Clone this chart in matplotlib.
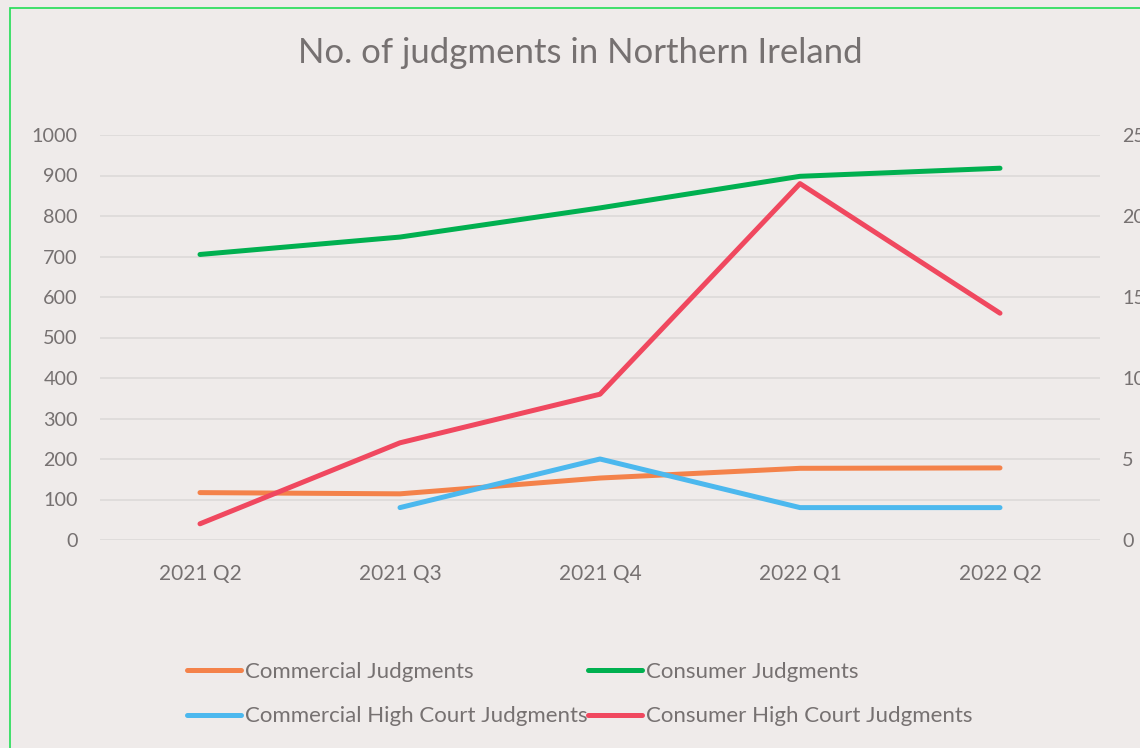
import numpy as np
import matplotlib.pyplot as plt
from matplotlib.patches import Rectangle

quarters = ["2021 Q2", "2021 Q3", "2021 Q4", "2022 Q1", "2022 Q2"]
commercial = [117, 114, 153, 177, 178]
consumer = [705, 748, 820, 898, 918]
commercial_hc = [np.nan, 2, 5, 2, 2]
consumer_hc = [1, 6, 9, 22, 14]

bg = "#EFEBEA"
grey = "#767171"
plt.rcParams["font.family"] = ["Lato", "DejaVu Sans"]

fig = plt.figure(figsize=(11.4, 7.48), dpi=100, facecolor=bg)
# green chart border (cropped on right/bottom)
fig.patches.append(Rectangle((10 / 1140, -0.1), 1.2, 1 - 8 / 748 + 0.1,
                             transform=fig.transFigure, fill=False,
                             edgecolor="#22DD55", linewidth=1.2))

ax = fig.add_axes([100 / 1140, 1 - 540 / 748, 1000 / 1140, 405 / 748])
ax.set_facecolor(bg)
ax2 = ax.twinx()

x = np.arange(len(quarters))
l1, = ax.plot(x, commercial, color="#F4824A", lw=3.6, label="Commercial Judgments", solid_capstyle="round")
l2, = ax.plot(x, consumer, color="#00B050", lw=3.6, label="Consumer Judgments", solid_capstyle="round")
l3, = ax2.plot(x, commercial_hc, color="#4CB8EE", lw=3.6, label="Commercial High Court Judgments", solid_capstyle="round")
l4, = ax2.plot(x, consumer_hc, color="#F0485F", lw=3.6, label="Consumer High Court Judgments", solid_capstyle="round")

ax.set_xlim(-0.5, 4.5)
ax.set_ylim(0, 1000)
ax.set_yticks(range(0, 1001, 100))
ax2.set_ylim(0, 25)
ax2.set_yticks(range(0, 26, 5))
ax.set_xticks(x)
ax.set_xticklabels(quarters)
ax.grid(axis="y", color="#DCD9D8", lw=1.2)
ax.set_axisbelow(True)
for a in (ax, ax2):
    for s in a.spines.values():
        s.set_visible(False)
    a.tick_params(length=0, colors=grey, labelsize=14.2)
ax.tick_params(axis="x", labelsize=15, pad=17)
ax.tick_params(axis="y", pad=16)
ax2.tick_params(axis="y", pad=16)

fig.text(580 / 1140, 1 - 53 / 748, "No. of judgments in Northern Ireland",
         ha="center", va="center", fontsize=25, color=grey)

fig.legend(handles=[l1, l3, l2, l4], ncol=2, frameon=False,
           loc="center left", bbox_to_anchor=(167 / 1140, 1 - 694 / 748),
           fontsize=16, labelcolor=grey, handlelength=2.43,
           handletextpad=0.18, columnspacing=0.0, labelspacing=1.12)

fig.savefig("out.png", dpi=100, facecolor=bg)
